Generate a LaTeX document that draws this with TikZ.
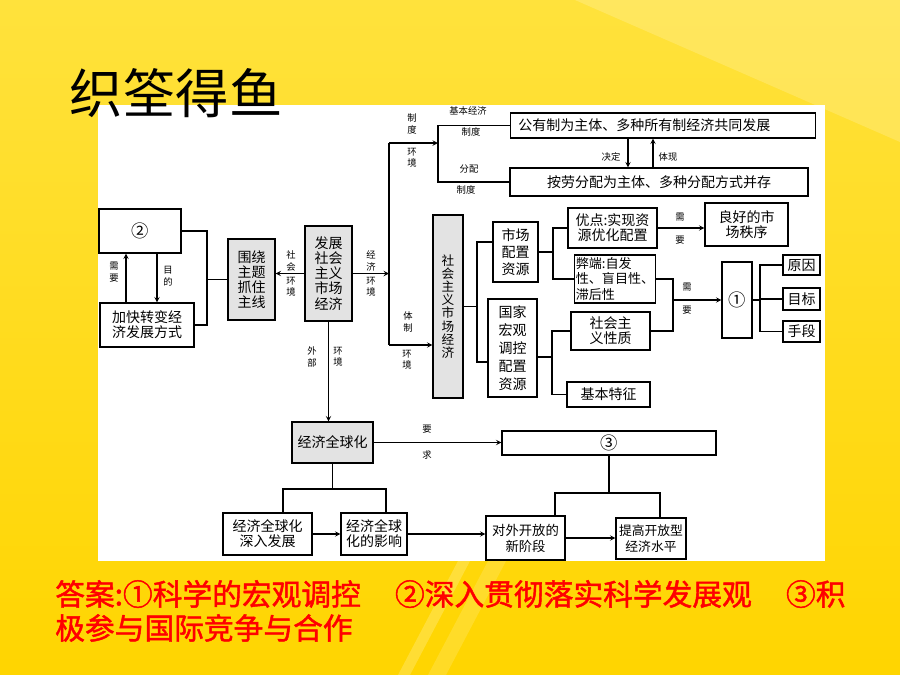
\documentclass[tikz,border=0pt]{standalone}
\usepackage{fontspec}
\newfontfamily\cjk{Noto Sans CJK SC}
\newfontfamily\cjkbf[FakeBold=1.5]{Noto Sans CJK SC}
\definecolor{fondhaut}{RGB}{255,226,60}
\definecolor{fondbas}{RGB}{255,213,0}
\tikzset{
  box/.style={draw, line width=0.8pt, fill=white, align=center, inner sep=1pt,
    font=\cjk\fontsize{10.5}{11.3}\selectfont},
  graybox/.style={box, fill=black!11},
  numbox/.style={box, font=\cjk\fontsize{13}{13}\selectfont},
  lbl/.style={font=\cjk\fontsize{7}{8.6}\selectfont, align=center, inner sep=0pt},
  link/.style={line width=0.8pt},
  arr/.style={link, -stealth},
}

\begin{document}
\begin{tikzpicture}[x=0.75pt, y=-0.75pt]
    \useasboundingbox (0,0) rectangle (900,675);

    % Fond jaune
    \shade[top color=fondhaut, bottom color=fondbas] (0,0) rectangle (900,675);
    \fill[white, opacity=0.18] (575,0) -- (900,0) -- (900,142) -- cycle;
    \fill[white, opacity=0.2] (398,675) -- (410,675) -- (470,561) -- (458,561) -- cycle;
    \fill[white, opacity=0.15] (428,675) -- (446,675) -- (506,561) -- (488,561) -- cycle;

    % Panneau blanc
    \fill[white] (98,105) rectangle (825,561);

    % Titre
    \node[font=\cjk\fontsize{40}{40}\selectfont] (titre) at (176,93) {织筌得鱼};

    % Partie gauche
    \node[numbox, minimum width=61.5pt, minimum height=33pt] (n2) at (140,231) {②};
    \node[box, minimum width=70.5pt, minimum height=33pt] (jiakuai) at (147,325) {加快转变经\\济发展方式};
    \node[graybox, minimum width=35.25pt, minimum height=60.75pt] (weirao) at (251.5,279.5) {围绕\\主题\\抓住\\主线};
    \node[graybox, minimum width=35.25pt, minimum height=71.25pt] (fazhan) at (328.5,273.5) {发展\\社会\\主义\\市场\\经济};

    % Partie haute
    \node[box, text width=217pt, minimum height=18.75pt, align=left, inner xsep=6pt] (gongyou) at (663,125.5) {公有制为主体、多种所有制经济共同发展};
    \node[box, minimum width=223.5pt, minimum height=21pt] (anlao) at (659,182) {按劳分配为主体、多种分配方式并存};

    % Partie centrale
    \node[graybox, minimum width=22.5pt, minimum height=137.25pt, font=\cjk\fontsize{9.5}{9.8}\selectfont] (shsc) at (448,306.5) {社\\会\\主\\义\\市\\场\\经\\济};
    \node[box, minimum width=33.75pt, minimum height=45pt, font=\cjk\fontsize{10.5}{12.75}\selectfont] (scpz) at (515.5,252) {市场\\配置\\资源};
    \node[box, minimum width=36.75pt, minimum height=73.5pt, font=\cjk\fontsize{10.5}{13.5}\selectfont] (gjhg) at (512.5,348) {国家\\宏观\\调控\\配置\\资源};
    \node[box, minimum width=66.75pt, minimum height=30pt] (youdian) at (612.5,228) {优点:实现资\\源优化配置};
    \node[box, minimum width=62.25pt, minimum height=32.25pt] (lianghao) at (746.5,224.5) {良好的市\\场秩序};
    \node[box, minimum width=60pt, minimum height=36pt, align=left, font=\cjk\fontsize{9.8}{11.3}\selectfont] (biduan) at (615,279) {弊端:自发\\性、盲目性、\\滞后性};
    \node[box, minimum width=59.25pt, minimum height=28.5pt] (shxz) at (610.5,331) {社会主\\义性质};
    \node[box, minimum width=62.25pt, minimum height=18.75pt] (jbtz) at (608.5,394.5) {基本特征};
    \node[numbox, minimum width=22.5pt, minimum height=57pt] (n1) at (737,300) {①};
    \node[box, minimum width=27.75pt, minimum height=15pt] (yuanyin) at (801.5,265) {原因};
    \node[box, minimum width=27.75pt, minimum height=16.5pt] (mubiao) at (801.5,299) {目标};
    \node[box, minimum width=27.75pt, minimum height=15.75pt] (shouduan) at (801.5,331.5) {手段};

    % Partie basse
    \node[graybox, minimum width=60.75pt, minimum height=30.75pt] (qqh) at (332.5,442.5) {经济全球化};
    \node[numbox, minimum width=160.5pt, minimum height=18pt] (n3) at (609,443) {③};
    \node[box, minimum width=66.75pt, minimum height=31.5pt] (shenru) at (267.5,534) {经济全球化\\深入发展};
    \node[box, minimum width=49.5pt, minimum height=31.5pt] (yingxiang) at (374,534) {经济全球\\化的影响};
    \node[box, minimum width=59.25pt, minimum height=33pt, font=\cjk\fontsize{10}{12}\selectfont] (duiwai) at (525.5,538) {对外开放的\\新阶段};
    \node[box, minimum width=52.5pt, minimum height=30.75pt, font=\cjk\fontsize{9.6}{12}\selectfont] (tigao) at (651,538.5) {提高开放型\\经济水平};

    % Points de jonction
    \coordinate (xuyao) at (126,0);
    \coordinate (mudi) at (157,0);
    \coordinate (jA) at (207,0);
    \coordinate (hjtop) at (389,143);
    \coordinate (hjbot) at (389,345);
    \coordinate (zhidu) at (438,143);
    \coordinate (jueding) at (628,0);
    \coordinate (tixian) at (653,0);
    \coordinate (jB1) at (477,242);
    \coordinate (jB2) at (477,362);
    \coordinate (jC) at (553,0);
    \coordinate (jD) at (552,357);
    \coordinate (jE) at (673,0);
    \coordinate (jF) at (760,0);
    \coordinate (jG1) at (283,489);
    \coordinate (jG2) at (386,489);
    \coordinate (jH1) at (555,493);
    \coordinate (jH2) at (660,493);

    % Liaisons gauche
    \draw[arr] (jiakuai.north -| xuyao) -- (n2.south -| xuyao);
    \draw[arr] (n2.south -| mudi) -- (jiakuai.north -| mudi);
    \draw[link] (n2.east) -| (jA |- jiakuai.east) -- (jiakuai.east);
    \draw[link] (jA |- weirao.west) -- (weirao.west);
    \draw[arr] (fazhan.west) -- (fazhan.west -| weirao.east);

    % Liaisons haut
    \draw[arr] (fazhan.east) -- (fazhan.east -| hjtop);
    \draw[link] (hjtop) -- (hjbot);
    \draw[arr] (hjtop) -- (zhidu);
    \draw[link] (gongyou.west) -| (zhidu) |- (anlao.west);
    \draw[arr] (gongyou.south -| jueding) -- (anlao.north -| jueding);
    \draw[arr] (anlao.north -| tixian) -- (gongyou.south -| tixian);

    % Liaisons centre
    \draw[arr] (hjbot) -- (hjbot -| shsc.west);
    \draw[link] (shsc.east) -- (shsc.east -| jB1);
    \draw[link] (scpz.west |- jB1) -- (jB1) -- (jB2) -- (gjhg.west |- jB2);
    \draw[link] (scpz.east) -- (scpz.east -| jC);
    \draw[link] (youdian.west) -| (jC |- biduan.west) -- (biduan.west);
    \draw[arr] (youdian.east) -- (youdian.east -| lianghao.west);
    \draw[link] (gjhg.east |- jD) -- (jD);
    \draw[link] (shxz.west) -| (jD |- jbtz.west) -- (jbtz.west);
    \draw[link] (biduan.east) -| (jE |- shxz.east) -- (shxz.east);
    \draw[arr] (jE |- n1.west) -- (n1.west);
    \draw[link] (n1.east) -- (n1.east -| jF);
    \draw[link] (yuanyin.west) -| (jF |- shouduan.west) -- (shouduan.west);
    \draw[link] (jF |- mubiao.west) -- (mubiao.west);

    % Liaisons bas
    \draw[arr] (fazhan.south) -- (fazhan.south |- qqh.north);
    \draw[arr] (qqh.east) -- (qqh.east -| n3.west);
    \draw[link] (qqh.south) -- (qqh.south |- jG1);
    \draw[link] (jG1 |- shenru.north) -- (jG1) -- (jG2) -- (jG2 |- yingxiang.north);
    \draw[link] (n3.south) -- (n3.south |- jH1);
    \draw[link] (jH1 |- duiwai.north) -- (jH1) -- (jH2) -- (jH2 |- tigao.north);
    \draw[arr] (shenru.east) -- (shenru.east -| yingxiang.west);
    \draw[arr] (yingxiang.east) -- (yingxiang.east -| duiwai.west);
    \draw[arr] (duiwai.east) -- (duiwai.east -| tigao.west);

    % Etiquettes
    \node[lbl] (l1) at (114,272) {需\\要};
    \node[lbl] (l2) at (168,276) {目\\的};
    \node[lbl] (l3) at (291,261) {社\\会};
    \node[lbl] (l4) at (291,287) {环\\境};
    \node[lbl] (l5) at (371,261) {经\\济};
    \node[lbl] (l6) at (371,287) {环\\境};
    \node[lbl] (l7) at (412,124) {制\\度};
    \node[lbl] (l8) at (412,158) {环\\境};
    \node[lbl] (l9) at (408,322) {体\\制};
    \node[lbl] (l10) at (407,360) {环\\境};
    \node[lbl] (l11) at (312,357) {外\\部};
    \node[lbl] (l12) at (338,357) {环\\境};
    \node[lbl] (l13) at (468,111) {基本经济};
    \node[lbl] (l14) at (471,132) {制度};
    \node[lbl] (l15) at (469,169) {分配};
    \node[lbl] (l16) at (466,190) {制度};
    \node[lbl] (l17) at (611,157) {决定};
    \node[lbl] (l18) at (668,157) {体现};
    \node[lbl] (l19) at (680,217) {需};
    \node[lbl] (l20) at (680,240) {要};
    \node[lbl] (l21) at (687,287) {需};
    \node[lbl] (l22) at (687,310) {要};
    \node[lbl] (l23) at (427,429) {要};
    \node[lbl] (l24) at (427,455) {求};

    % Reponse
    \node[anchor=west, text=red, inner sep=0pt, font=\cjkbf\fontsize{22.3}{22.3}\selectfont] (rep1) at (55,594) {答案:①科学的宏观调控\hspace{1.15em}②深入贯彻落实科学发展观\hspace{1.15em}③积};
    \node[anchor=west, text=red, inner sep=0pt, font=\cjkbf\fontsize{22.3}{22.3}\selectfont] (rep2) at (55,628) {极参与国际竞争与合作};
\end{tikzpicture}
\end{document}
